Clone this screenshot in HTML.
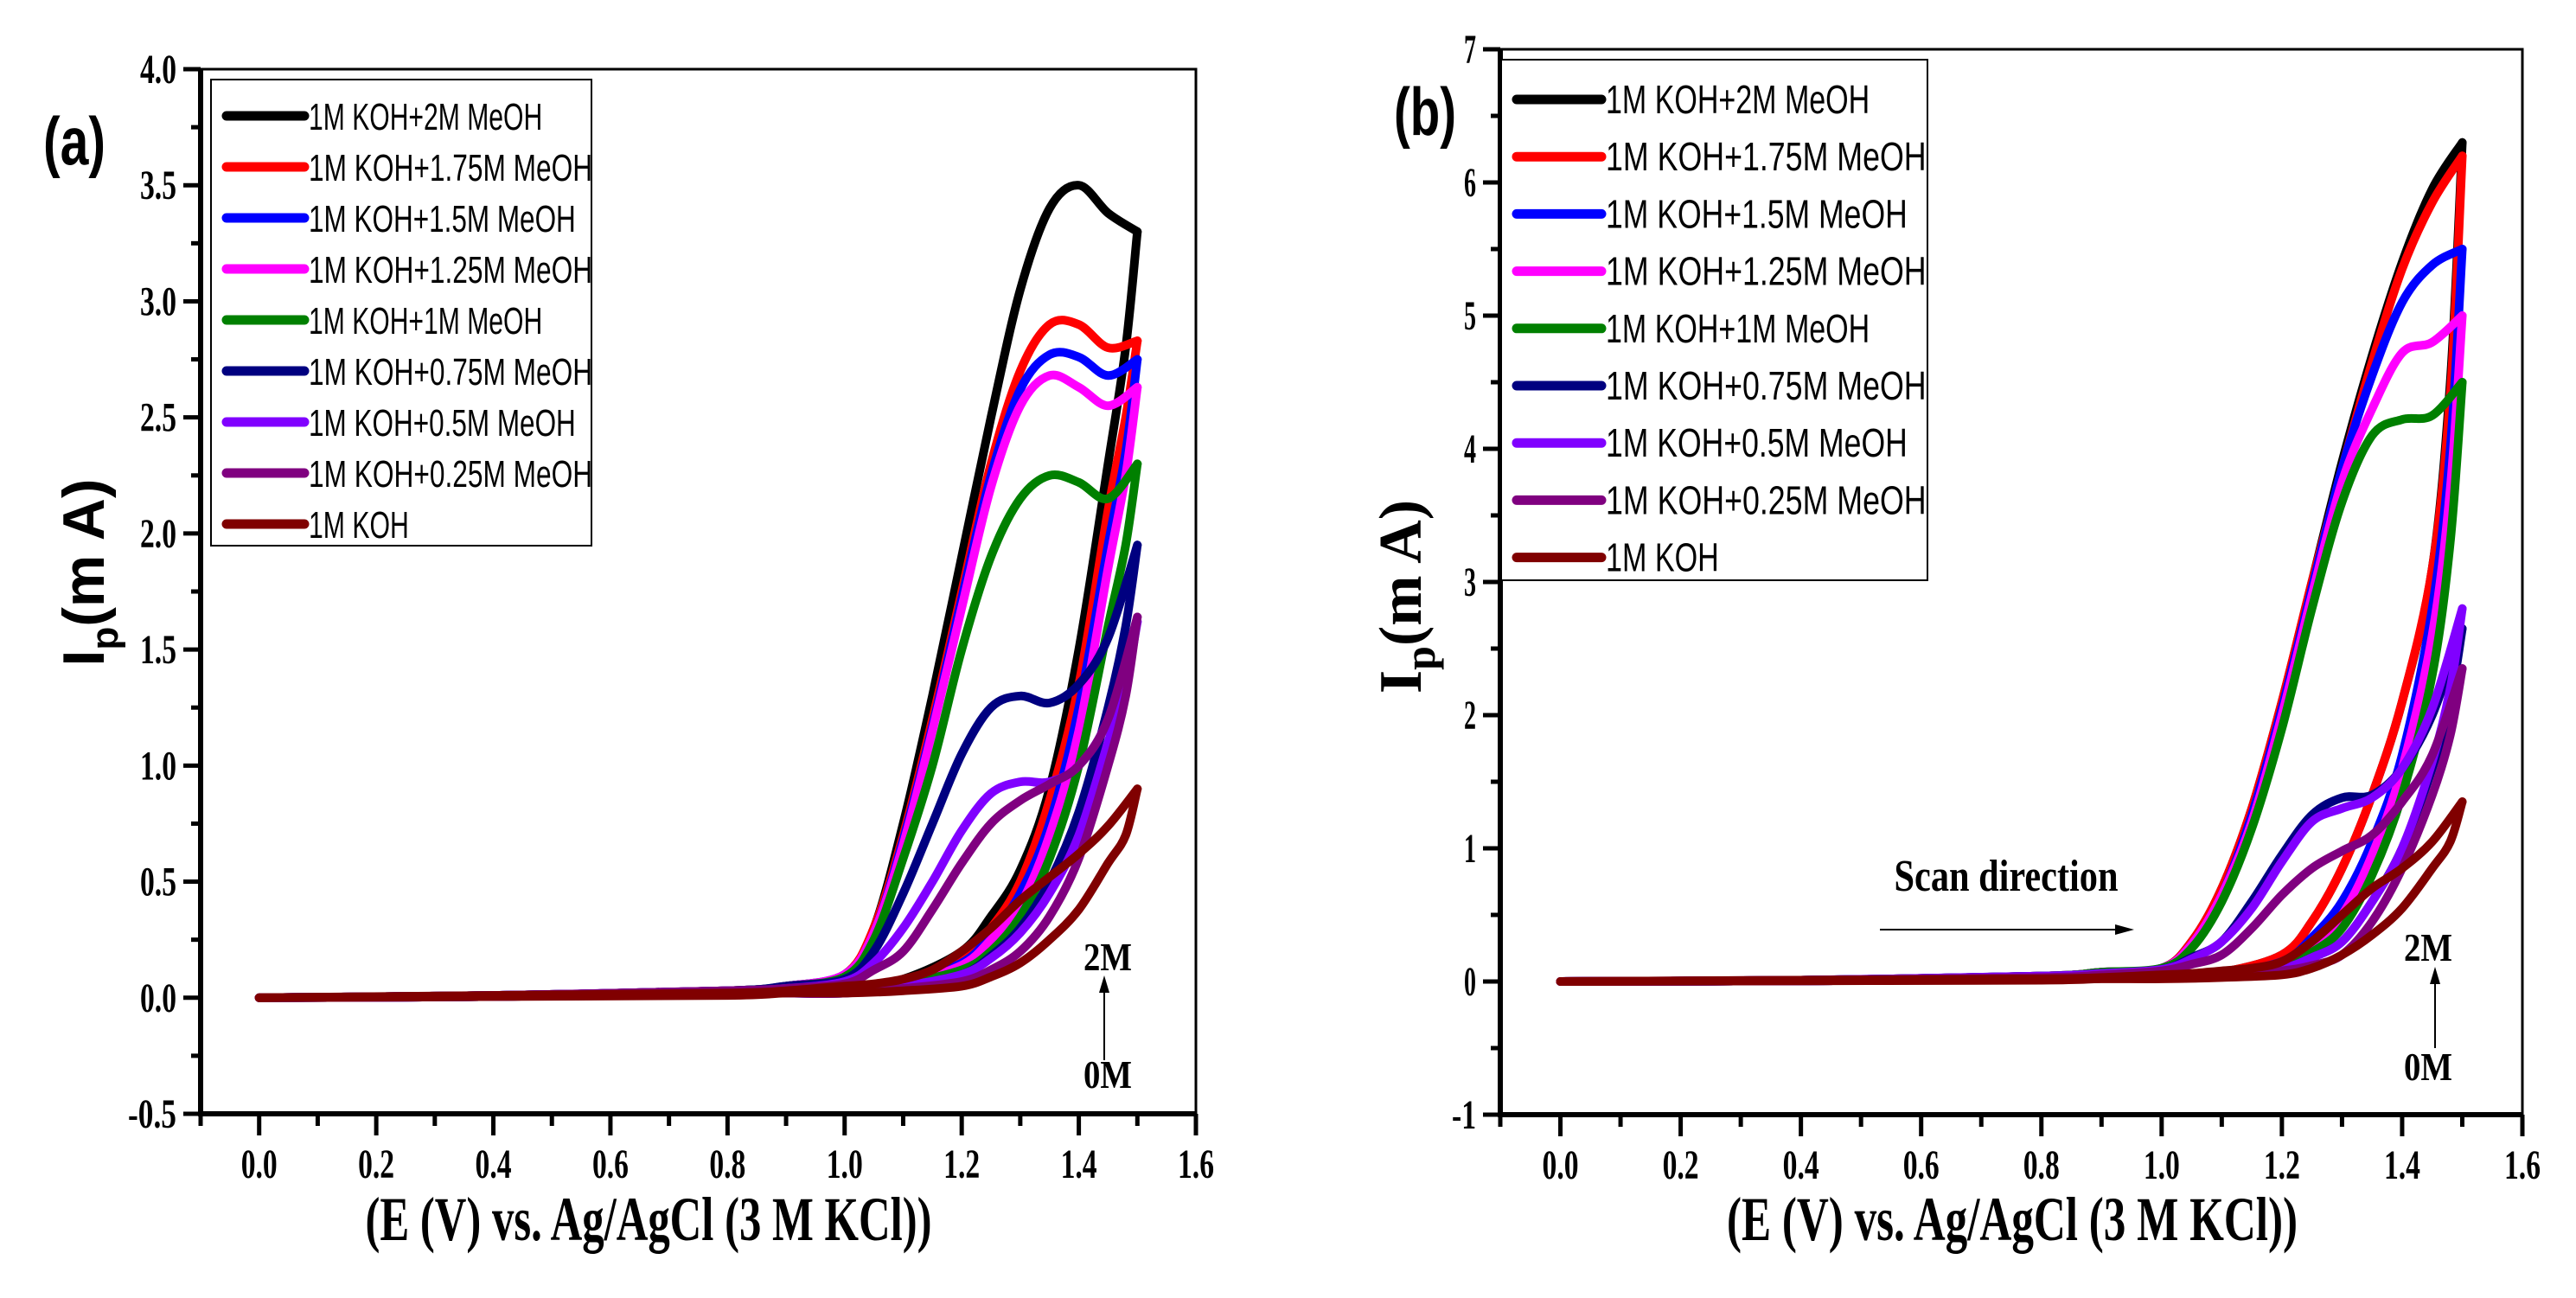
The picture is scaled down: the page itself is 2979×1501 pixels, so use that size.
<!DOCTYPE html>
<html><head><meta charset="utf-8"><style>
html,body{margin:0;padding:0;background:#fff;}
svg{display:block;}
</style></head><body>
<svg id="fig" xmlns="http://www.w3.org/2000/svg" width="2979" height="1501" viewBox="0 0 2979 1501"></svg>
<script>
const seriesLabels = ["1M KOH+2M MeOH","1M KOH+1.75M MeOH","1M KOH+1.5M MeOH","1M KOH+1.25M MeOH","1M KOH+1M MeOH","1M KOH+0.75M MeOH","1M KOH+0.5M MeOH","1M KOH+0.25M MeOH","1M KOH"];
const seriesColors = ["#000000","#ff0000","#0000ff","#ff00ff","#008000","#000080","#8000ff","#800080","#800000"];
const upperE = [0,0.4,0.8,0.9,1.0,1.05,1.1,1.15,1.2,1.25,1.3,1.35,1.4,1.45,1.5];
const lowerE = [0,0.4,0.8,0.9,1.0,1.1,1.2,1.25,1.3,1.35,1.4,1.45,1.48,1.5];
const xTicks = [0.0,0.2,0.4,0.6,0.8,1.0,1.2,1.4,1.6];
const aYTicks = [-0.5,0,0.5,1.0,1.5,2.0,2.5,3.0,3.5,4.0];
const bYTicks = [-1,0,1,2,3,4,5,6,7];
const aUpper = [
 [0,0.01,0.03,0.05,0.1,0.3,0.75,1.3,1.9,2.5,3.05,3.4,3.5,3.38,3.3],
 [0,0.01,0.03,0.05,0.1,0.3,0.7,1.2,1.75,2.3,2.7,2.9,2.9,2.8,2.83],
 [0,0.01,0.03,0.05,0.1,0.28,0.68,1.17,1.72,2.25,2.62,2.77,2.76,2.68,2.75],
 [0,0.01,0.03,0.05,0.1,0.28,0.66,1.15,1.68,2.2,2.55,2.68,2.63,2.55,2.63],
 [0,0.01,0.03,0.05,0.09,0.25,0.6,1.0,1.5,1.9,2.15,2.25,2.22,2.15,2.3],
 [0,0.01,0.03,0.05,0.08,0.2,0.45,0.75,1.05,1.25,1.3,1.27,1.35,1.55,1.95],
 [0,0.01,0.03,0.04,0.07,0.15,0.3,0.5,0.72,0.88,0.93,0.93,1.0,1.2,1.62],
 [0,0.01,0.03,0.04,0.06,0.12,0.2,0.38,0.58,0.75,0.85,0.92,1.0,1.2,1.64],
 [0,0.01,0.02,0.03,0.05,0.06,0.08,0.12,0.2,0.3,0.42,0.52,0.62,0.74,0.9]
];
const aLower = [
 [0,0.005,0.02,0.03,0.03,0.08,0.2,0.35,0.55,0.9,1.5,2.3,2.8,3.3],
 [0,0.005,0.02,0.03,0.03,0.07,0.17,0.3,0.5,0.85,1.35,2.1,2.5,2.83],
 [0,0.005,0.02,0.03,0.03,0.07,0.15,0.27,0.45,0.75,1.25,1.95,2.35,2.75],
 [0,0.005,0.02,0.03,0.03,0.06,0.14,0.25,0.4,0.7,1.15,1.85,2.25,2.63],
 [0,0.005,0.02,0.03,0.03,0.06,0.12,0.2,0.35,0.6,1.0,1.6,1.95,2.3],
 [0,0.005,0.02,0.02,0.02,0.05,0.1,0.18,0.3,0.5,0.8,1.25,1.6,1.95],
 [0,0.005,0.02,0.02,0.02,0.05,0.1,0.17,0.28,0.45,0.7,1.1,1.35,1.62],
 [0,0.005,0.02,0.02,0.02,0.04,0.07,0.12,0.2,0.35,0.6,1.0,1.3,1.64],
 [0,0.005,0.01,0.02,0.02,0.03,0.05,0.09,0.15,0.25,0.38,0.58,0.7,0.9]
];
const bUpper = [
 [0,0.01,0.04,0.07,0.1,0.3,0.7,1.3,2.1,3.0,3.9,4.7,5.4,5.95,6.3],
 [0,0.01,0.04,0.07,0.1,0.3,0.7,1.3,2.1,3.0,3.85,4.65,5.35,5.85,6.2],
 [0,0.01,0.04,0.07,0.1,0.28,0.65,1.25,2.05,2.95,3.85,4.55,5.1,5.38,5.5],
 [0,0.01,0.04,0.07,0.1,0.28,0.65,1.2,2.0,2.9,3.75,4.3,4.72,4.8,5.0],
 [0,0.01,0.04,0.07,0.1,0.25,0.6,1.15,1.9,2.8,3.6,4.1,4.22,4.25,4.5],
 [0,0.01,0.04,0.06,0.09,0.18,0.3,0.6,0.95,1.25,1.38,1.4,1.6,2.0,2.65],
 [0,0.01,0.04,0.06,0.09,0.17,0.3,0.55,0.9,1.2,1.3,1.38,1.6,2.05,2.8],
 [0,0.01,0.03,0.05,0.08,0.13,0.2,0.4,0.65,0.85,0.98,1.1,1.35,1.7,2.35],
 [0,0.01,0.02,0.03,0.05,0.06,0.08,0.1,0.15,0.3,0.5,0.7,0.85,1.05,1.35]
];
const bLower = [
 [0,0.005,0.02,0.03,0.04,0.07,0.2,0.45,0.85,1.4,2.1,3.1,4.5,6.3],
 [0,0.005,0.02,0.03,0.04,0.07,0.2,0.45,0.85,1.4,2.1,3.1,4.4,6.2],
 [0,0.005,0.02,0.03,0.04,0.06,0.15,0.33,0.6,1.05,1.7,2.8,4.0,5.5],
 [0,0.005,0.02,0.03,0.04,0.06,0.13,0.28,0.5,0.95,1.6,2.6,3.7,5.0],
 [0,0.005,0.02,0.03,0.04,0.05,0.12,0.22,0.4,0.8,1.4,2.3,3.3,4.5],
 [0,0.005,0.02,0.03,0.03,0.05,0.1,0.18,0.3,0.6,1.0,1.6,2.1,2.65],
 [0,0.005,0.02,0.03,0.03,0.05,0.1,0.18,0.3,0.6,1.0,1.65,2.2,2.8],
 [0,0.005,0.02,0.03,0.03,0.04,0.08,0.12,0.2,0.45,0.85,1.4,1.85,2.35],
 [0,0.005,0.01,0.02,0.02,0.03,0.05,0.1,0.2,0.35,0.55,0.85,1.05,1.35]
];

const NS = "http://www.w3.org/2000/svg";
const svg = document.getElementById('fig');
function mk(tag, attrs, parent){
  const e = document.createElementNS(NS, tag);
  for (const k in attrs) e.setAttribute(k, attrs[k]);
  (parent||svg).appendChild(e);
  return e;
}
function smooth(pts){
  let d = "M"+pts[0][0].toFixed(1)+","+pts[0][1].toFixed(1);
  for (let i=0;i<pts.length-1;i++){
    const p0=pts[Math.max(0,i-1)], p1=pts[i], p2=pts[i+1], p3=pts[Math.min(pts.length-1,i+2)];
    const c1x=p1[0]+(p2[0]-p0[0])/6, c1y=p1[1]+(p2[1]-p0[1])/6;
    const c2x=p2[0]-(p3[0]-p1[0])/6, c2y=p2[1]-(p3[1]-p1[1])/6;
    d += " C"+c1x.toFixed(1)+","+c1y.toFixed(1)+" "+c2x.toFixed(1)+","+c2y.toFixed(1)+" "+p2[0].toFixed(1)+","+p2[1].toFixed(1);
  }
  return d;
}
const SERIF = '"Liberation Serif", serif';
const SANS = '"Liberation Sans", sans-serif';

function panel(c){
  const g = mk('g', {});
  
  
  const X = v => c.x0 + (v - c.xmin)/(c.xmax - c.xmin)*(c.x1 - c.x0);
  const Y = v => c.y1 - (v - c.ymin)/(c.ymax - c.ymin)*(c.y1 - c.y0);
  const fr = mk('rect', {x:c.x0, y:c.y0, width:c.x1-c.x0, height:c.y1-c.y0, fill:'none', stroke:'#000', 'stroke-width':3}, g);
  
  
  const la = mk('line', {x1:c.x0, y1:c.y0, x2:c.x0, y2:c.y1+3, stroke:'#000','stroke-width':6}, g);
  
  
  const ba = mk('line', {x1:c.x0-3, y1:c.y1, x2:c.x1, y2:c.y1, stroke:'#000','stroke-width':6}, g);
  
  
  for (let v=-0.1; v<=1.6001; v+=0.1){
    const major = Math.abs(Math.round(v*10)%2)===0;
    mk('line', {x1:X(v), y1:c.y1, x2:X(v), y2:c.y1+(major?25:14), stroke:'#000','stroke-width':5}, g);
  }
  xTicks.forEach(v=>{
    const t = mk('text', {x:X(v), y:c.y1+74, 'font-family':SERIF, 'font-weight':'bold', 'font-size':48, 'text-anchor':'middle', 'textLength':42, 'lengthAdjust':'spacingAndGlyphs'}, g);
    t.textContent = v.toFixed(1);
    
    
  });
  const st = c.yMinor;
  for (let v=c.ymin; v<=c.ymax+1e-6; v+=st){
    const major = Math.abs(Math.round((v-c.ymin)/st))%2===0;
    mk('line', {x1:c.x0-(major?20:11), y1:Y(v), x2:c.x0, y2:Y(v), stroke:'#000','stroke-width':5}, g);
  }
  c.yTicks.forEach(v=>{
    const s = c.fmt(v);
    const t = mk('text', {x:c.x0-28, y:Y(v)+16, 'font-family':SERIF, 'font-weight':'bold', 'font-size':48, 'text-anchor':'end', 'textLength':(s.length*14), 'lengthAdjust':'spacingAndGlyphs'}, g);
    t.textContent = s;
    
    
  });
  for (let i=0;i<seriesLabels.length;i++){
    const up = upperE.map((e,j)=>[X(e), Y(c.up[i][j])]);
    const lo = lowerE.map((e,j)=>[X(e), Y(c.lo[i][j])]);
    const p1 = mk('path', {d:smooth(lo), fill:'none', stroke:seriesColors[i], 'stroke-width':10, 'stroke-linecap':'round','stroke-linejoin':'round'}, g);
    
    
    const p2 = mk('path', {d:smooth(up), fill:'none', stroke:seriesColors[i], 'stroke-width':10, 'stroke-linecap':'round','stroke-linejoin':'round'}, g);
    
    
  }
  const lg = mk('g', {}, g);
  
  
  mk('rect', {x:c.lx0, y:c.ly0, width:c.lx1-c.lx0, height:c.ly1-c.ly0, fill:'#fff', stroke:'#000','stroke-width':2}, lg);
  seriesLabels.forEach((s,i)=>{
    const yy = c.ly0 + c.lrow0 + i*c.lstep;
    const ln = mk('line', {x1:c.lineX0, y1:yy, x2:c.lineX1, y2:yy, stroke:seriesColors[i], 'stroke-width':11, 'stroke-linecap':'round'}, lg);
    
    
    const t = mk('text', {x:c.lineX1+5, y:yy+16, 'font-family':SANS, 'font-size':c.lfs, 'textLength':c.lscale*s.length, 'lengthAdjust':'spacingAndGlyphs'}, lg);
    t.textContent = s;
    
    
  });
  return {X,Y,g};
}

const A = panel({id:'a', x0:232, x1:1383, y0:80, y1:1288, xmin:-0.1, xmax:1.6, ymin:-0.5, ymax:4.0, yMinor:0.25,
  yTicks:aYTicks, fmt:v=>v.toFixed(1), up:aUpper, lo:aLower,
  lx0:244, lx1:684, ly0:92, ly1:631, lrow0:42, lstep:59, lineX0:262, lineX1:352, lfs:44, lscale:19.3});
const B = panel({id:'b', x0:1735, x1:2917, y0:57, y1:1289, xmin:-0.1, xmax:1.6, ymin:-1, ymax:7, yMinor:0.5,
  yTicks:bYTicks, fmt:v=>String(v), up:bUpper, lo:bLower,
  lx0:1736, lx1:2229, ly0:69, ly1:671, lrow0:46, lstep:66.2, lineX0:1754, lineX1:1852, lfs:46, lscale:21.8});

function txt(x,y,s,attrs,name){
  const t = mk('text', Object.assign({x:x,y:y}, attrs));
  t.textContent = s;
  
  
  return t;
}
txt(750,1434,"(E (V) vs. Ag/AgCl (3 M KCl))",{'font-family':SERIF,'font-weight':'bold','font-size':72,'text-anchor':'middle','textLength':655,'lengthAdjust':'spacingAndGlyphs'},'a-x-axis-title');
txt(2327,1434,"(E (V) vs. Ag/AgCl (3 M KCl))",{'font-family':SERIF,'font-weight':'bold','font-size':72,'text-anchor':'middle','textLength':660,'lengthAdjust':'spacingAndGlyphs'},'b-x-axis-title');
const ya = mk('text', {transform:'translate(120,662) rotate(-90)', 'font-family':SANS,'font-weight':'bold','font-size':68,'text-anchor':'middle'});
ya.innerHTML = 'I<tspan font-size="44" dy="16">p</tspan><tspan dy="-16">(m A)</tspan>';


const yb = mk('text', {transform:'translate(1643,690) rotate(-90)', 'font-family':SERIF,'font-weight':'bold','font-size':70,'text-anchor':'middle'});
yb.innerHTML = 'I<tspan font-size="50" dy="16">p</tspan><tspan dy="-16">(m A)</tspan>';


txt(86,190,"(a)",{'font-family':SANS,'font-weight':'bold','font-size':78,'text-anchor':'middle','textLength':72,'lengthAdjust':'spacingAndGlyphs'},'panel-label-a');
txt(1648,156,"(b)",{'font-family':SANS,'font-weight':'bold','font-size':78,'text-anchor':'middle','textLength':72,'lengthAdjust':'spacingAndGlyphs'},'panel-label-b');
txt(1281,1122,"2M",{'font-family':SERIF,'font-weight':'bold','font-size':46,'text-anchor':'middle','textLength':56,'lengthAdjust':'spacingAndGlyphs'},'a-label-2m');
txt(1281,1258,"0M",{'font-family':SERIF,'font-weight':'bold','font-size':46,'text-anchor':'middle','textLength':56,'lengthAdjust':'spacingAndGlyphs'},'a-label-0m');
mk('line',{x1:1277,y1:1226,x2:1277,y2:1140,stroke:'#000','stroke-width':2});
mk('polygon',{points:'1271,1148 1283,1148 1277,1128',fill:'#000'});
txt(2808,1111,"2M",{'font-family':SERIF,'font-weight':'bold','font-size':46,'text-anchor':'middle','textLength':56,'lengthAdjust':'spacingAndGlyphs'},'b-label-2m');
txt(2808,1249,"0M",{'font-family':SERIF,'font-weight':'bold','font-size':46,'text-anchor':'middle','textLength':56,'lengthAdjust':'spacingAndGlyphs'},'b-label-0m');
mk('line',{x1:2816,y1:1212,x2:2816,y2:1130,stroke:'#000','stroke-width':2});
mk('polygon',{points:'2810,1138 2822,1138 2816,1118',fill:'#000'});
txt(2320,1030,"Scan direction",{'font-family':SERIF,'font-weight':'bold','font-size':52,'text-anchor':'middle','textLength':259,'lengthAdjust':'spacingAndGlyphs'},'scan-direction-label');
mk('line',{x1:2174,y1:1075,x2:2450,y2:1075,stroke:'#000','stroke-width':2});
mk('polygon',{points:'2446,1069 2446,1081 2468,1075',fill:'#000'});
</script>
</body></html>
